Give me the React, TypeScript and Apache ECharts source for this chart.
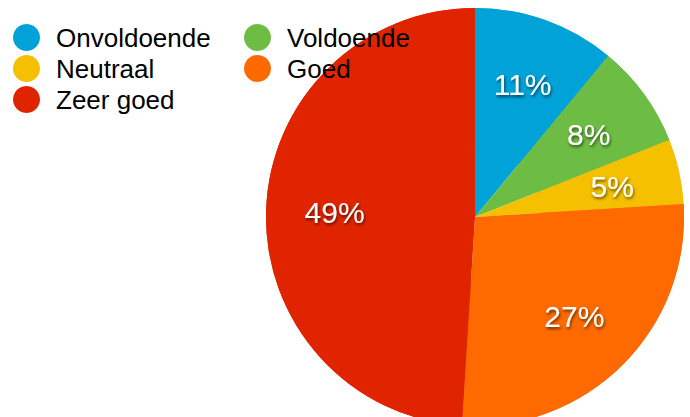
import React, { useEffect, useRef } from "react";
import * as echarts from "echarts";

const categories = ["Onvoldoende", "Voldoende", "Neutraal", "Goed", "Zeer goed"];
const values = [11, 8, 5, 27, 49];
const colors = ["#00a2d8", "#6dbd45", "#f5c000", "#ff6a00", "#e12400"];
const legendCol1 = ["Onvoldoende", "Neutraal", "Zeer goed"];
const legendCol2 = ["Voldoende", "Goed"];

export default function App() {
  const ref = useRef<HTMLDivElement>(null);
  useEffect(() => {
    document.body.style.margin = "0";
    const chart = echarts.init(ref.current!, null, { renderer: "svg" });
    const data = categories.map((name, i) => ({
      name,
      value: values[i],
      itemStyle: { color: colors[i] },
    }));
    const legendBase = {
      orient: "vertical" as const,
      top: 24,
      padding: 0,
      itemWidth: 27,
      itemHeight: 27,
      itemGap: 4,
      icon: "circle",
      textStyle: {
        fontFamily: "Liberation Sans",
        fontSize: 26,
        lineHeight: 27,
        color: "#000",
        padding: [0, 0, 0, 11],
      },
      selectedMode: false,
    };
    chart.setOption({
      animation: false,
      legend: [
        { ...legendBase, left: 13, data: legendCol1 },
        { ...legendBase, left: 244, data: legendCol2 },
      ],
      series: [
        {
          type: "pie",
          center: [475, 217],
          radius: [0, 209],
          startAngle: 90,
          clockwise: true,
          label: { show: false },
          labelLine: { show: false },
          emphasis: { disabled: true },
          silent: true,
          data,
        },
        {
          type: "pie",
          center: [475, 217],
          radius: [66, 209],
          startAngle: 90,
          clockwise: true,
          label: {
            show: true,
            position: "inside",
            formatter: "{d}%",
            color: "#fff",
            fontFamily: "Liberation Sans",
            fontSize: 30,
            textShadowColor: "rgba(0,0,0,0.6)",
            textShadowBlur: 3,
            textShadowOffsetX: 1,
            textShadowOffsetY: 2,
          },
          labelLine: { show: false },
          emphasis: { disabled: true },
          silent: true,
          data,
        },
      ],
    });
    return () => chart.dispose();
  }, []);
  return <div ref={ref} style={{ width: 690, height: 417 }} />;
}
